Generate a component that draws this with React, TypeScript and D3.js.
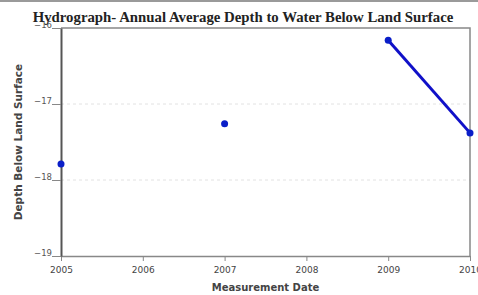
import React, { useRef, useEffect } from 'react';
import * as d3 from 'd3';

// Annual average depth to water (feet, negative = below land surface)
const years = [2005, 2006, 2007, 2008, 2009, 2010];
const depths: (number | null)[] = [-17.79, null, -17.26, null, -16.16, -17.38];
const yTicks = [-19, -18, -17, -16];
const xTicks = [2005, 2006, 2007, 2008, 2009, 2010];

export default function App() {
  const ref = useRef<SVGSVGElement>(null);

  useEffect(() => {
    const svg = d3.select(ref.current);
    svg.selectAll('*').remove();

    const width = 478;
    const height = 295;
    const margin = { top: 28, right: 8, bottom: 39, left: 61 };

    const x = d3
      .scaleLinear()
      .domain([2005, 2010])
      .range([margin.left, width - margin.right]);

    const y = d3
      .scaleLinear()
      .domain([-19, -16])
      .range([height - margin.bottom, margin.top]);

    const data = years.map((yr, i) => ({ year: yr, value: depths[i] }));

    // top gray bar
    svg.append('rect').attr('x', 0).attr('y', 0).attr('width', width).attr('height', 2).attr('fill', '#9a9a9a');

    // grid lines
    svg
      .append('g')
      .selectAll('line')
      .data([-18, -17])
      .join('line')
      .attr('x1', margin.left)
      .attr('x2', width - margin.right)
      .attr('y1', d => y(d))
      .attr('y2', d => y(d))
      .attr('stroke', '#e2e2e2')
      .attr('stroke-dasharray', '3,3');

    // frame: top and right
    svg
      .append('path')
      .attr('d', `M${margin.left},${y(-16)}H${x(2010)}V${y(-19)}`)
      .attr('fill', 'none')
      .attr('stroke', '#888')
      .attr('stroke-width', 1.5);

    // x axis
    const xAxis = svg
      .append('g')
      .attr('transform', `translate(0,${y(-19)})`)
      .call(d3.axisBottom(x).tickValues(xTicks).tickFormat(d3.format('d')).tickSize(5).tickSizeOuter(0));
    xAxis.select('.domain').attr('stroke', '#888').attr('stroke-width', 1.5);
    xAxis.selectAll('.tick line').attr('stroke', '#888');
    xAxis
      .selectAll('.tick text')
      .attr('dy', '1.05em')
      .style('font-family', '"DejaVu Sans", Verdana, sans-serif')
      .style('font-size', '9px')
      .style('fill', '#444');

    // y axis
    const yAxis = svg
      .append('g')
      .attr('transform', `translate(${margin.left},0)`)
      .call(d3.axisLeft(y).tickValues(yTicks).tickFormat(d3.format('d')).tickSize(9).tickSizeOuter(0));
    yAxis.select('.domain').attr('stroke', '#555').attr('stroke-width', 2);
    yAxis.selectAll('.tick line').attr('stroke', '#888');
    yAxis
      .selectAll('.tick text')
      .attr('x', -9)
      .attr('dy', '-0.05em')
      .style('font-family', '"DejaVu Sans", Verdana, sans-serif')
      .style('font-size', '8.5px')
      .style('fill', '#555');

    // title (drawn over the clipped -16 label, as in the original)
    svg
      .append('text')
      .attr('x', 243)
      .attr('y', 22)
      .attr('text-anchor', 'middle')
      .style('font-family', '"Liberation Serif", serif')
      .style('font-weight', 'bold')
      .style('font-size', '14.8px')
      .style('fill', '#222')
      .text('Hydrograph- Annual Average Depth to Water Below Land Surface');

    // line (gaps where no data)
    const line = d3
      .line<{ year: number; value: number | null }>()
      .defined(d => d.value !== null)
      .x(d => x(d.year))
      .y(d => y(d.value as number));

    svg
      .append('path')
      .datum(data)
      .attr('fill', 'none')
      .attr('stroke', '#1010c8')
      .attr('stroke-width', 3)
      .attr('d', line);

    svg
      .append('g')
      .selectAll('circle')
      .data(data.filter(d => d.value !== null))
      .join('circle')
      .attr('cx', d => x(d.year))
      .attr('cy', d => y(d.value as number))
      .attr('r', 3.5)
      .attr('fill', '#0a1ec8');

    // axis titles
    svg
      .append('text')
      .attr('x', x(2007.5))
      .attr('y', 291)
      .attr('text-anchor', 'middle')
      .style('font-family', '"DejaVu Sans", Verdana, sans-serif')
      .style('font-weight', 'bold')
      .style('font-size', '10px')
      .style('fill', '#444')
      .text('Measurement Date');

    svg
      .append('text')
      .attr('transform', `translate(22,${y(-17.5)}) rotate(-90)`)
      .attr('text-anchor', 'middle')
      .style('font-family', '"DejaVu Sans", Verdana, sans-serif')
      .style('font-weight', 'bold')
      .style('font-size', '10.5px')
      .style('fill', '#444')
      .text('Depth Below Land Surface');
  }, []);

  return (
    <svg
      ref={ref}
      width={478}
      height={295}
      style={{ position: 'absolute', left: 0, top: 0, background: '#fff', overflow: 'hidden' }}
    />
  );
}
